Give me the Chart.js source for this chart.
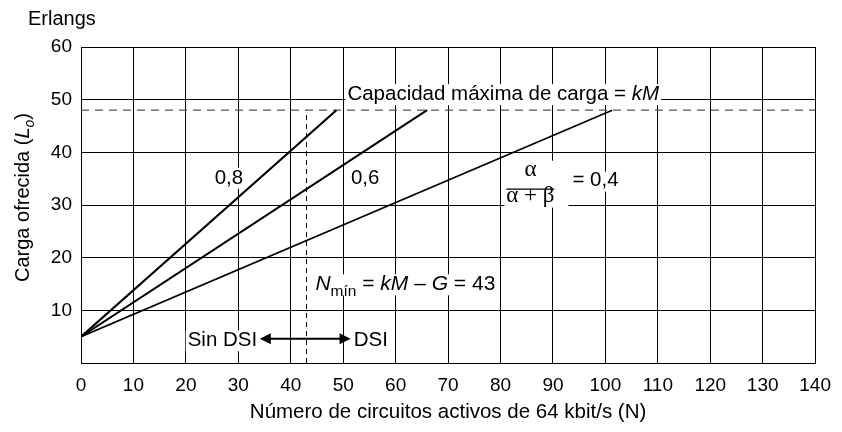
<!DOCTYPE html>
<html lang="es">
<head>
<meta charset="utf-8">
<title>Carga ofrecida y circuitos activos</title>
<script src="https://cdn.jsdelivr.net/npm/chart.js@4.4.1/dist/chart.umd.min.js"></script>
<style>
    html, body { margin: 0; padding: 0; background: #fff; }
    #wrap { width: 842px; height: 432px; }
</style>
</head>
<body>
<div id="wrap"><canvas id="loadChart" width="842" height="432"></canvas></div>
<script>
/* jshint esversion: 11 */
/* global Chart */
/* Offered load against active 64 kbit/s circuits, one line per activity ratio. */

// Activity ratio alpha/(alpha+beta) of each line and where it reaches capacity.
var ratioLabels = ["0,8", "0,6", "0,4"];
var startCircuits = 0;
var startLoad = 5;
var endCircuits = [48.7, 66, 101.3];
var capacityLoad = 48;   // kM
var minCircuits = 43;    // N min = kM - G

// Axis ranges and tick steps.
var xMin = 0, xMax = 140, xStep = 10;
var yMin = 0, yMax = 60, yStep = 10;

var SANS = '"Liberation Sans", Arial, sans-serif';
var SERIF = '"Liberation Serif", "Times New Roman", serif';

function font(size, style, family) {
    return (style ? style + " " : "") + size + "px " + (family || SANS);
}

// Measure a run of text pieces that may change font or baseline.
function measureRich(ctx, parts) {
    var w = 0;
    parts.forEach(function (p) {
        ctx.font = p.font;
        p.w = ctx.measureText(p.t).width;
        w += p.w;
    });
    return w;
}

function drawRich(ctx, parts, x, y) {
    ctx.textAlign = "left";
    ctx.textBaseline = "alphabetic";
    parts.forEach(function (p) {
        ctx.font = p.font;
        ctx.fillText(p.t, x, y + (p.dy || 0));
        x += p.w;
    });
}

// Text notes placed in data coordinates; align tells which edge x refers to.
var notes = [
    { x: 50.8, y: 49.9, align: "left", parts: [
        { t: "Capacidad máxima de carga = ", font: font(20.5) },
        { t: "kM", font: font(20.5, "italic") }] },
    { x: 28.2, y: 34.05, align: "center", parts: [{ t: ratioLabels[0], font: font(20.5) }] },
    { x: 54.2, y: 34.05, align: "center", parts: [{ t: ratioLabels[1], font: font(20.5) }] },
    { x: 44.7, y: 13.8, align: "left", parts: [
        { t: "N", font: font(21, "italic") },
        { t: "mín", font: font(15.5), dy: 6 },
        { t: " = ", font: font(21) },
        { t: "kM", font: font(21, "italic") },
        { t: " \u2013 ", font: font(21) },
        { t: "G", font: font(21, "italic") },
        { t: " = " + minCircuits, font: font(21) }] },
    { x: 33.6, y: 3.17, align: "right", parts: [{ t: "Sin DSI", font: font(20.5) }] },
    { x: 52.0, y: 3.17, align: "left", parts: [{ t: "DSI", font: font(20.5) }] }
];

function layoutNote(ctx, chart, n) {
    var w = measureRich(ctx, n.parts);
    var px = chart.scales.x.getPixelForValue(n.x);
    var py = chart.scales.y.getPixelForValue(n.y);
    var left = n.align === "left" ? px : n.align === "right" ? px - w : px - w / 2;
    return { left: left, base: py, w: w };
}

var notesPlugin = {
    id: "notes",
    beforeDatasetsDraw: function (chart) {
        var ctx = chart.ctx;
        var xs = chart.scales.x, ys = chart.scales.y;
        ctx.save();
        ctx.fillStyle = "#fff";
        notes.forEach(function (n) {
            var b = layoutNote(ctx, chart, n);
            ctx.fillRect(b.left - 2, b.base - 16, b.w + 4, 21);
        });
        // fraction alpha/(alpha+beta) = 0,4 background
        var fx = xs.getPixelForValue(85.7), fy = ys.getPixelForValue(33.1);
        ctx.fillRect(fx - 26, fy - 28, 64, 47);
        ctx.fillRect(fx + 40, fy - 17, 40, 20);
        ctx.restore();
    },
    afterDatasetsDraw: function (chart) {
        var ctx = chart.ctx;
        var xs = chart.scales.x, ys = chart.scales.y;
        ctx.save();
        ctx.fillStyle = "#000";
        ctx.strokeStyle = "#000";
        notes.forEach(function (n) {
            var b = layoutNote(ctx, chart, n);
            drawRich(ctx, n.parts, b.left, b.base);
        });

        // alpha / (alpha + beta) = 0,4
        var fx = xs.getPixelForValue(85.7), fy = ys.getPixelForValue(33.1);
        ctx.textAlign = "center";
        ctx.font = font(23, "", SERIF);
        ctx.fillText("\u03b1", fx, fy - 13);
        ctx.fillText("\u03b1 + \u03b2", fx, fy + 13);
        ctx.lineWidth = 1.2;
        ctx.beginPath();
        ctx.moveTo(fx - 24, fy + 0.5);
        ctx.lineTo(fx + 24, fy + 0.5);
        ctx.stroke();
        ctx.textAlign = "left";
        ctx.font = font(20.5);
        ctx.fillText("= " + ratioLabels[2], fx + 42, fy - 2.3);

        // double arrow between "Sin DSI" and "DSI"
        var ay = ys.getPixelForValue(4.6);
        var a0 = xs.getPixelForValue(34.1), a1 = xs.getPixelForValue(51.4);
        ctx.lineWidth = 2;
        ctx.beginPath();
        ctx.moveTo(a0 + 8, ay);
        ctx.lineTo(a1 - 8, ay);
        ctx.stroke();
        ctx.beginPath();
        ctx.moveTo(a0, ay);
        ctx.lineTo(a0 + 11, ay - 5.5);
        ctx.lineTo(a0 + 11, ay + 5.5);
        ctx.closePath();
        ctx.moveTo(a1, ay);
        ctx.lineTo(a1 - 11, ay - 5.5);
        ctx.lineTo(a1 - 11, ay + 5.5);
        ctx.closePath();
        ctx.fill();

        // unit above the y axis
        ctx.font = font(20);
        ctx.fillText("Erlangs", 28, 25);

        // rotated y axis title with italic L and subscript o
        var yTitle = [
            { t: "Carga ofrecida (", font: font(20) },
            { t: "L", font: font(20, "italic") },
            { t: "o", font: font(14, "italic"), dy: 5 },
            { t: ")", font: font(20) }
        ];
        var tw = measureRich(ctx, yTitle);
        ctx.translate(28.5, 197.5);
        ctx.rotate(-Math.PI / 2);
        drawRich(ctx, yTitle, -tw / 2, 0);
        ctx.restore();
    }
};

document.addEventListener("DOMContentLoaded", function () {
    var canvas = document.getElementById("loadChart");

    var datasets = endCircuits.map(function (endX, i) {
        return {
            label: ratioLabels[i],
            data: [{ x: startCircuits, y: startLoad }, { x: endX, y: capacityLoad }],
            borderColor: "#000",
            borderWidth: i === 0 ? 2.2 : i === 1 ? 2 : 1.7
        };
    });
    // capacity kM, dashed across the plot
    datasets.push({
        label: "kM",
        data: [{ x: xMin, y: capacityLoad }, { x: xMax, y: capacityLoad }],
        borderColor: "#555",
        borderWidth: 1.2,
        borderDash: [8, 6]
    });
    // minimum circuits N min, dashed up to the capacity
    datasets.push({
        label: "Nmin",
        data: [{ x: minCircuits, y: yMin }, { x: minCircuits, y: capacityLoad }],
        borderColor: "#000",
        borderWidth: 1,
        borderDash: [5, 4]
    });

    new Chart(canvas, {
        type: "scatter",
        data: { datasets: datasets },
        options: {
            responsive: false,
            animation: false,
            showLine: true,
            elements: { point: { radius: 0, hoverRadius: 0 }, line: { tension: 0 } },
            layout: { padding: { left: 0, right: 19, top: 47, bottom: 0 } },
            plugins: { legend: { display: false }, tooltip: { enabled: false } },
            scales: {
                x: {
                    type: "linear",
                    min: xMin,
                    max: xMax,
                    afterFit: function (s) { s.height = 69; },
                    ticks: {
                        stepSize: xStep,
                        padding: 11,
                        color: "#000",
                        font: { family: SANS, size: 19 }
                    },
                    grid: { color: "#000", lineWidth: 1, drawTicks: false },
                    border: { color: "#000", width: 1 },
                    title: {
                        display: true,
                        text: "Número de circuitos activos de 64 kbit/s (N)",
                        color: "#000",
                        font: { family: SANS, size: 20.5 },
                        padding: { top: 0, bottom: 7 }
                    }
                },
                y: {
                    min: yMin,
                    max: yMax,
                    afterFit: function (s) { s.width = 81; },
                    ticks: {
                        stepSize: yStep,
                        padding: 9,
                        color: "#000",
                        font: { family: SANS, size: 19 },
                        callback: function (v) { return v === 0 ? "" : v; }
                    },
                    grid: { color: "#000", lineWidth: 1, drawTicks: false },
                    border: { color: "#000", width: 1 }
                }
            }
        },
        plugins: [notesPlugin]
    });
});
</script>
</body>
</html>
